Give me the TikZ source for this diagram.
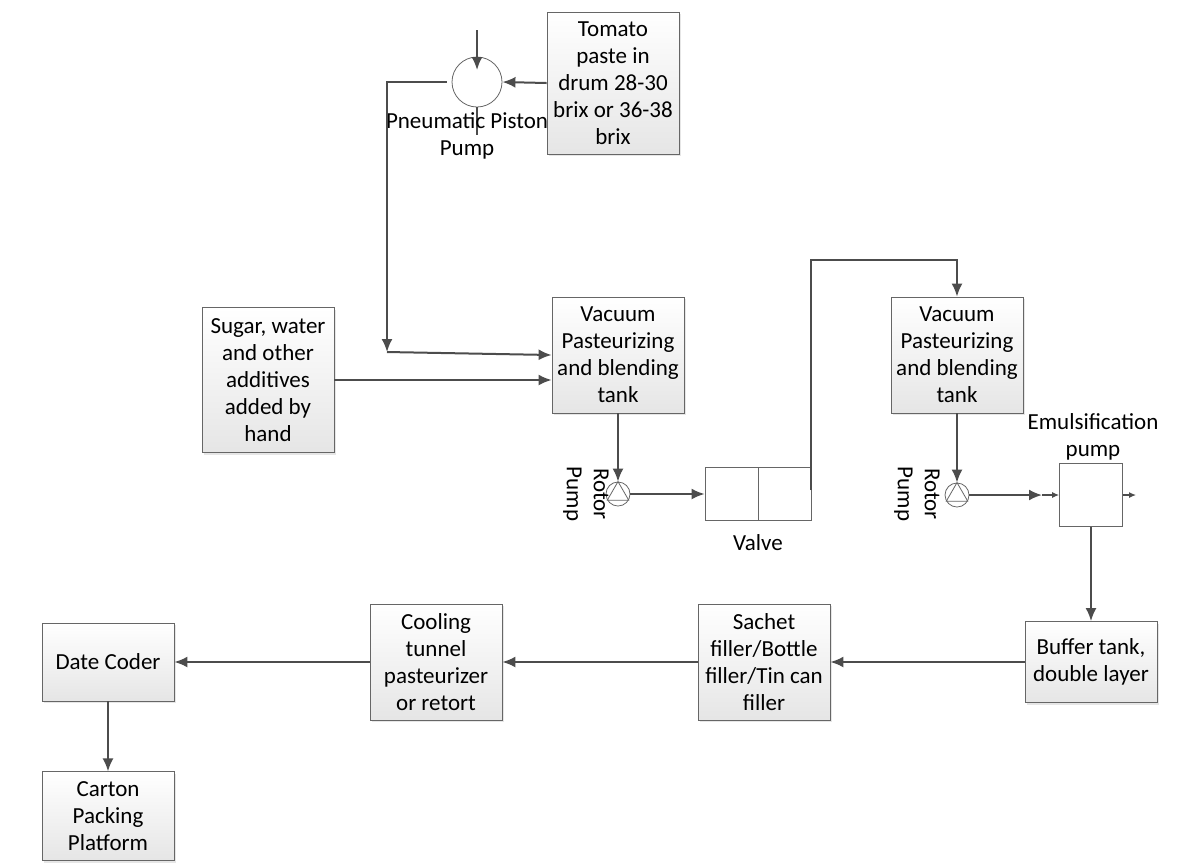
\documentclass[tikz,border=0pt]{standalone}
\usepackage{fontspec}
\setmainfont{Carlito}
\usetikzlibrary{arrows.meta,positioning,shadows}
\tikzset{
    %Define standard arrow tip
    >={Latex[length=6.5pt,width=5.5pt]},
    %Define style for boxes
    boks/.style={
           rectangle,
           draw=black!60,
           top color=white,
           bottom color=black!10,
           drop shadow={opacity=0.2,shadow xshift=1.2pt,shadow yshift=-1.2pt},
           minimum width=66pt,
           inner xsep=1pt,
           align=center},
    % Define style for free labels
    tekst/.style={
           align=center,
           inner sep=1pt},
    % Define style for pumps and plain units
    pumpe/.style={
           circle,
           draw=black!60,
           fill=white,
           minimum size=25pt,
           inner sep=0pt},
    rotor/.style={
           pumpe,
           minimum size=12pt},
    enhet/.style={
           rectangle,
           draw=black!60,
           fill=white},
    % Define arrow style
    pil/.style={
           ->,
           draw=black!70,
           line width=1pt},
    smapil/.style={
           -{Latex[length=3.5pt,width=3pt]},
           draw=black!70,
           line width=0.6pt}
}

\begin{document}
\begin{tikzpicture}[x=0.5pt, y=-0.5pt, font=\fontsize{11.5}{13.5}\selectfont]
  \useasboundingbox (0,0) rectangle (1182,864);
  % top: paste and piston pump
  \node[boks,minimum height=71pt] (tomat) at (613,83) {Tomato\\paste in\\drum 28-30\\brix or 36-38\\brix};
  \node[pumpe] (pumpe) at (477,82) {};
  \coordinate (inn) at (477,30);
  \coordinate (stump) at (477,135);
  \coordinate (knekk) at (387,352);
  \draw[pil,shorten >=6pt] (inn) -- (pumpe.center);
  \draw[draw=black!70,line width=1pt] (pumpe.south) -- (stump);
  \node[tekst] (pumpetekst) at (467,136) {Pneumatic Piston\\Pump};
  \draw[pil] (tomat.west) -- (pumpe.east);
  \draw[pil] ([xshift=-2.5pt]pumpe.west) -| (knekk);
  % first tank
  \node[boks,minimum height=72.5pt] (sukker) at (268,380) {Sugar, water\\and other\\additives\\added by\\hand};
  \node[boks,minimum height=58pt] (tank1) at (618,355) {Vacuum\\Pasteurizing\\and blending\\tank};
  \draw[pil] (knekk) -- (tank1.west);
  \draw[pil] (sukker.east) -- (sukker.east -| tank1.west);
  \node[rotor] (rotor1) at (618,494) {};
  \draw[black!60] (rotor1.90) -- (rotor1.210) -- (rotor1.330) -- cycle;
  \node[tekst,rotate=-90] (rotortekst1) at (586,494) {Rotor\\Pump};
  \draw[pil] (tank1.south) -- (rotor1.north);
  % valve
  \node[enhet,minimum width=53pt,minimum height=26.5pt] (ventil) at (758,494) {};
  \draw[black!60] (ventil.north) -- (ventil.south);
  \node[tekst] (ventiltekst) at (758,543) {Valve};
  \draw[pil] (rotor1.east) -- (ventil.west);
  % second tank
  \node[boks,minimum height=58pt] (tank2) at (957,355) {Vacuum\\Pasteurizing\\and blending\\tank};
  \coordinate (topp) at (957,260);
  \draw[pil] ([yshift=2pt]ventil.east) |- (topp) -- (tank2.north);
  \node[rotor] (rotor2) at (957,495) {};
  \draw[black!60] (rotor2.90) -- (rotor2.210) -- (rotor2.330) -- cycle;
  \node[tekst,rotate=-90] (rotortekst2) at (917,494) {Rotor\\Pump};
  \draw[pil] (tank2.south) -- (rotor2.north);
  % emulsification
  \node[enhet,minimum size=31.5pt] (emuls) at (1091,495) {};
  \node[tekst] (emulstekst) at (1093,437) {Emulsification\\pump};
  \coordinate (mellom) at (1042,495);
  \coordinate (ut) at (1136,495);
  \draw[pil] (rotor2.east) -- (mellom);
  \draw[smapil] (mellom) -- (emuls.west);
  \draw[smapil] (emuls.east) -- (ut);
  % bottom row
  \node[boks,minimum height=40.5pt] (buffer) at (1091,662) {Buffer tank,\\double layer};
  \node[boks,minimum height=58pt] (sachet) at (764,662) {Sachet\\filler/Bottle\\filler/Tin can\\filler};
  \node[boks,minimum height=58pt] (kjoling) at (436,662) {Cooling\\tunnel\\pasteurizer\\or retort};
  \node[boks,minimum height=39pt] (dato) at (108,662) {Date Coder};
  \node[boks,minimum height=44.5pt,below=35pt of dato] (kartong) {Carton\\Packing\\Platform};
  \draw[pil] (emuls.south) -- (buffer.north);
  \draw[pil] (buffer.west) -- (sachet.east);
  \draw[pil] (sachet.west) -- (kjoling.east);
  \draw[pil] (kjoling.west) -- (dato.east);
  \draw[pil] (dato.south) -- (kartong.north);
\end{tikzpicture}
\end{document}
